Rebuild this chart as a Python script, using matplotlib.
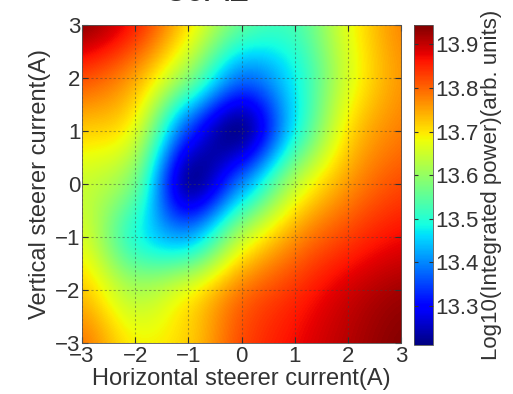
import numpy as np
import matplotlib.pyplot as plt

# steerer currents (A) at the grid nodes
h_current = [-3, -2, -1, 0, 1, 2, 3]
v_current = [-3, -2, -1, 0, 1, 2, 3]

# log10(integrated power), rows = vertical current -3..3, cols = horizontal -3..3
row_m3 = [13.78, 13.69, 13.72, 13.82, 13.87, 13.91, 13.94]
row_m2 = [13.72, 13.62, 13.67, 13.78, 13.84, 13.89, 13.92]
row_m1 = [13.66, 13.50, 13.43, 13.63, 13.76, 13.83, 13.87]
row_0 = [13.65, 13.56, 13.24, 13.40, 13.63, 13.76, 13.82]
row_p1 = [13.72, 13.66, 13.35, 13.23, 13.48, 13.70, 13.78]
row_p2 = [13.82, 13.75, 13.58, 13.39, 13.48, 13.66, 13.76]
row_p3 = [13.93, 13.85, 13.70, 13.55, 13.53, 13.67, 13.77]

cbar_ticks = [13.3, 13.4, 13.5, 13.6, 13.7, 13.8, 13.9]

plt.rcParams['font.family'] = ['Liberation Sans', 'DejaVu Sans']

power = np.array([row_m3, row_m2, row_m1, row_0, row_p1, row_p2, row_p3])

fig = plt.figure(figsize=(5.13, 3.94), dpi=100)
ax = fig.add_axes([0.160, 0.129, 0.622, 0.808])
cax = fig.add_axes([0.807, 0.124, 0.037, 0.813])

# half a step beyond the outer nodes so pixel centres sit on the nodes
dx = (h_current[1] - h_current[0]) / 2
dy = (v_current[1] - v_current[0]) / 2
im = ax.imshow(power, origin='lower', cmap='jet', interpolation='catrom',
               extent=(h_current[0] - dx, h_current[-1] + dx, v_current[0] - dy, v_current[-1] + dy),
               vmin=13.21, vmax=13.945, aspect='auto')
ax.set_xlim(h_current[0], h_current[-1])
ax.set_ylim(v_current[0], v_current[-1])
ax.set_xticks(h_current)
ax.set_yticks(v_current)
ax.set_xticklabels([str(v).replace('-', '\u2212') for v in h_current])
ax.set_yticklabels([str(v).replace('-', '\u2212') for v in v_current])
ax.tick_params(direction='in', top=True, right=True, labelsize=16, length=4, pad=1, colors='#333333')
ax.tick_params(axis='x', pad=2)
ax.grid(True, color='#404040', linestyle=(0, (2, 2)), linewidth=0.8, alpha=0.45)
for s in ax.spines.values():
    s.set_color('#555555')
    s.set_linewidth(0.6)
ax.set_xlabel('Horizontal steerer current(A)', fontsize=17, color='#333333')
ax.xaxis.set_label_coords(0.5, -0.078)
ax.set_ylabel('Vertical steerer current(A)', fontsize=17, color='#333333', labelpad=3)

cb = fig.colorbar(im, cax=cax, ticks=cbar_ticks, format='%.1f')
cb.ax.tick_params(direction='in', left=True, right=True, labelsize=16, length=3, pad=2, colors='#333333')
cb.outline.set_edgecolor('#555555')
cb.outline.set_linewidth(0.6)
cb.set_label('Log10(Integrated power)(arb. units)', fontsize=16, color='#333333', labelpad=1)

# title, mostly cut off by the top edge in the original
fig.text(0.405, 0.998, '30A2', fontsize=26, ha='center', va='baseline', color='#333333')

fig.savefig('out.png', dpi=100)
